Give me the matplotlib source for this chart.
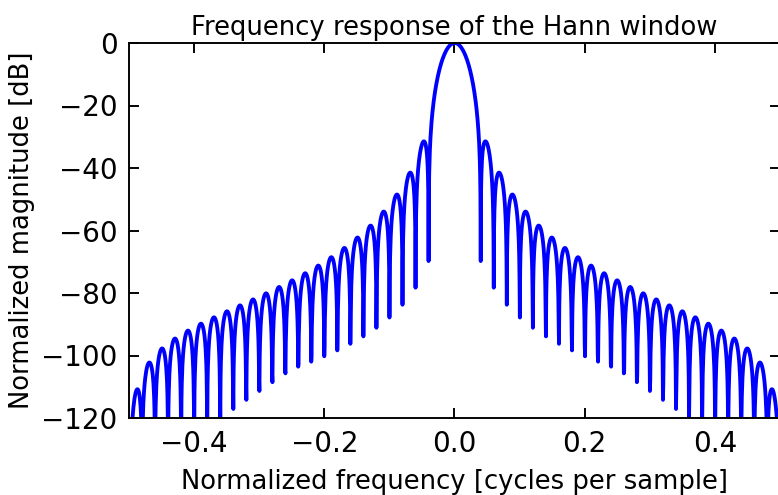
import numpy as np
import matplotlib
matplotlib.use("Agg")
import matplotlib.pyplot as plt

# Hann window, 51 taps, zero-padded FFT of 2048 points
window_length = 51
fft_size = 2048
window = np.hanning(window_length)

spectrum = np.fft.fft(window, fft_size) / (window_length / 2.0)
magnitude = np.abs(np.fft.fftshift(spectrum / np.abs(spectrum).max()))
with np.errstate(divide="ignore"):
    response = 20 * np.log10(magnitude)
freq = np.linspace(-0.5, 0.5, len(spectrum))

y_ticks = [0, -20, -40, -60, -80, -100, -120]
x_ticks = [-0.4, -0.2, 0.0, 0.2, 0.4]

dpi = 138
fig = plt.figure(figsize=(778 / dpi, 495 / dpi), dpi=dpi)
ax = fig.add_axes([129 / 778, 1 - 418 / 495, 651 / 778, 375 / 495])

ax.plot(freq, response, color="blue", lw=2)
ax.set_xlim(-0.5, 0.5)
ax.set_ylim(-120, 0)
ax.set_xticks(x_ticks)
ax.set_yticks(y_ticks)
ax.tick_params(direction="in", length=5, width=1, top=True, right=True,
               labelsize=14.5, pad=6)
for s in ax.spines.values():
    s.set_linewidth(1)

ax.set_title("Frequency response of the Hann window", fontsize=13.5, pad=4)
ax.set_xlabel("Normalized frequency [cycles per sample]", fontsize=13.5,
              labelpad=6)
ax.set_ylabel("Normalized magnitude [dB]", fontsize=13.5, labelpad=3)

fig.savefig("out.png", dpi=dpi)
